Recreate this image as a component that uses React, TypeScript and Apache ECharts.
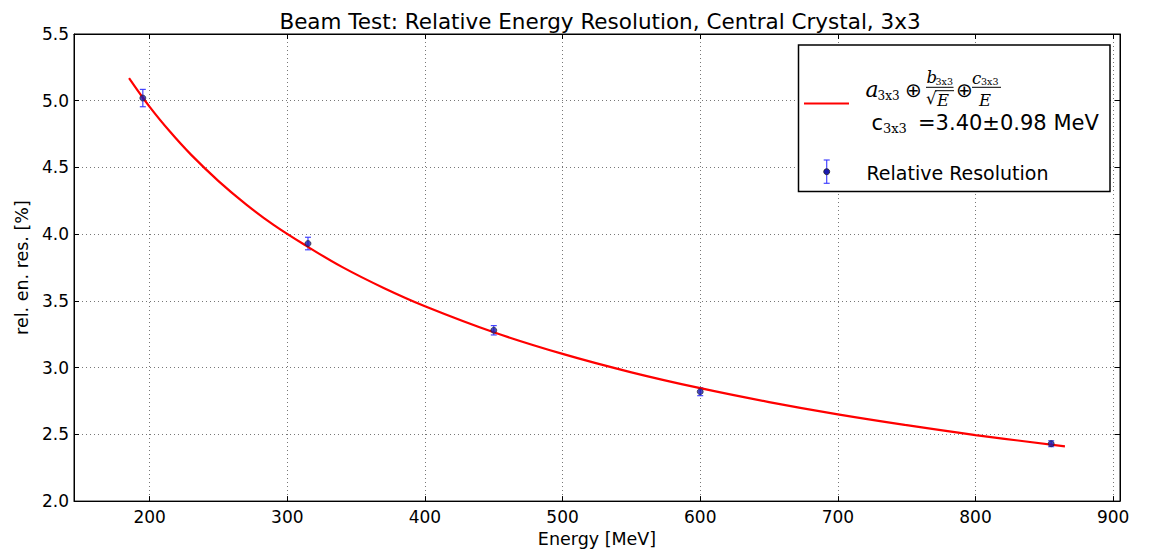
import React, { useEffect, useRef } from "react";
import * as echarts from "echarts";

const energies = [195, 315, 450, 600, 855];
const resolution = [5.02, 3.93, 3.28, 2.82, 2.43];
const errors = [0.065, 0.047, 0.035, 0.03, 0.022];

const fitEnergies = [185, 200, 215, 230, 250, 270, 290, 315, 340, 370, 400, 450, 500, 550, 600, 650, 700, 750, 800, 865];
const fitValues = [5.17, 4.954, 4.765, 4.596, 4.398, 4.224, 4.07, 3.905, 3.753, 3.597, 3.46, 3.265, 3.103, 2.965, 2.846, 2.742, 2.65, 2.569, 2.495, 2.41];

const xTicks = [200, 300, 400, 500, 600, 700, 800, 900];

const titleText = "Beam Test: Relative Energy Resolution, Central Crystal, 3x3";
const xName = "Energy [MeV]";
const yName = "rel. en. res. [%]";
const fitLabel = "=3.40\u00b10.98 MeV";
const pointsLabel = "Relative Resolution";

const SANS = "DejaVu Sans";
const SERIF = "DejaVu Serif";

export default function App() {
  const ref = useRef<HTMLDivElement>(null);
  useEffect(() => {
    if (!ref.current) return;
    const chart = echarts.init(ref.current, null, { renderer: "svg" });
    const gridLine = { show: true, lineStyle: { color: "#777", type: [1, 3], width: 1 } };
    const errColor = "rgba(50,50,255,0.9)";
    const txt = (text: string, x: number, y: number, size: number, family = SANS, italic = false) => ({
      type: "text",
      x,
      y,
      z: 101,
      style: {
        text,
        fill: "#000",
        font: `${italic ? "italic " : ""}${size}px "${family}"`,
        align: "left",
        verticalAlign: "middle",
      },
    });
    const seg = (x1: number, y1: number, x2: number, y2: number, color = "#000", w = 1) => ({
      type: "line",
      z: 101,
      shape: { x1, y1, x2, y2 },
      style: { stroke: color, lineWidth: w },
    });
    chart.setOption({
      animation: false,
      backgroundColor: "#fff",
      title: {
        text: titleText,
        left: 595,
        top: 5,
        textAlign: "center",
        textStyle: { fontFamily: SANS, fontSize: 21.5, fontWeight: "normal", color: "#000" },
      },
      grid: { left: 74, top: 34, right: 40, bottom: 46, show: true, borderColor: "#000", borderWidth: 1 },
      xAxis: [
        {
          type: "value",
          min: 145,
          max: 905,
          position: "bottom",
          name: xName,
          nameLocation: "middle",
          nameGap: 26,
          nameTextStyle: { fontFamily: SANS, fontSize: 17.5, color: "#000" },
          axisLine: { show: true, lineStyle: { color: "#000", width: 1 } },
          axisTick: { show: true, inside: true, length: 5, customValues: xTicks, lineStyle: { color: "#000" } },
          axisLabel: { customValues: xTicks, fontFamily: SANS, fontSize: 17, color: "#000", margin: 7 },
          splitLine: gridLine,
        },
        {
          type: "value",
          min: 145,
          max: 905,
          position: "top",
          axisLine: { show: true, lineStyle: { color: "#000", width: 1 } },
          axisTick: { show: true, inside: true, length: 5, customValues: xTicks, lineStyle: { color: "#000" } },
          axisLabel: { show: false },
          splitLine: { show: false },
        },
      ],
      yAxis: [
        {
          type: "value",
          min: 2,
          max: 5.5,
          interval: 0.5,
          position: "left",
          name: yName,
          nameLocation: "middle",
          nameGap: 40,
          nameTextStyle: { fontFamily: SANS, fontSize: 17.5, color: "#000" },
          axisLine: { show: true, lineStyle: { color: "#000", width: 1 } },
          axisTick: { show: true, inside: true, length: 5, lineStyle: { color: "#000" } },
          axisLabel: {
            fontFamily: SANS,
            fontSize: 17,
            color: "#000",
            margin: 5,
            formatter: (v: number) => v.toFixed(1),
          },
          splitLine: gridLine,
        },
        {
          type: "value",
          min: 2,
          max: 5.5,
          interval: 0.5,
          position: "right",
          axisLine: { show: true, lineStyle: { color: "#000", width: 1 } },
          axisTick: { show: true, inside: true, length: 5, lineStyle: { color: "#000" } },
          axisLabel: { show: false },
          splitLine: { show: false },
        },
      ],
      series: [
        {
          type: "custom",
          name: "errors",
          z: 2,
          data: energies.map((e, i) => [e, resolution[i], errors[i]]),
          encode: { x: 0, y: 1 },
          renderItem: (params: any, api: any) => {
            const x = api.value(0);
            const y = api.value(1);
            const e = api.value(2);
            const top = api.coord([x, y + e]);
            const bot = api.coord([x, y - e]);
            const hw = 3;
            const style = { stroke: errColor, lineWidth: 1.2 };
            return {
              type: "group",
              children: [
                { type: "line", shape: { x1: top[0], y1: top[1], x2: bot[0], y2: bot[1] }, style },
                { type: "line", shape: { x1: top[0] - hw, y1: top[1], x2: top[0] + hw, y2: top[1] }, style },
                { type: "line", shape: { x1: bot[0] - hw, y1: bot[1], x2: bot[0] + hw, y2: bot[1] }, style },
              ],
            };
          },
        },
        {
          type: "line",
          name: "fit",
          z: 3,
          data: fitEnergies.map((e, i) => [e, fitValues[i]]),
          smooth: 0.4,
          showSymbol: false,
          symbol: "none",
          lineStyle: { color: "#ff0000", width: 2.2 },
        },
        {
          type: "scatter",
          name: pointsLabel,
          z: 4,
          data: energies.map((e, i) => [e, resolution[i]]),
          symbol: "circle",
          symbolSize: 6,
          itemStyle: { color: "#1a1ab0", borderColor: "#222", borderWidth: 0.8 },
        },
      ],
      graphic: [
        {
          type: "rect",
          z: 100,
          shape: { x: 798.5, y: 45, width: 311.5, height: 146.5 },
          style: { fill: "#fff", stroke: "#000", lineWidth: 1.5 },
        },
        seg(804, 103.5, 849, 103.5, "#ff0000", 2.2),
        txt("a", 865.5, 89, 22, SERIF, true),
        txt("3x3", 877.5, 95.5, 12, SERIF),
        txt("\u2295", 905, 89.5, 20, SANS),
        txt("b", 926.5, 77.3, 16.5, SERIF, true),
        txt("3x3", 935.5, 81.5, 9.5, SERIF),
        seg(926, 87.3, 953.5, 87.3, "#000", 1),
        txt("\u221a", 926, 98.5, 16.5, SANS),
        seg(935, 90.7, 954, 90.7, "#000", 1),
        txt("E", 937, 100.5, 16.5, SERIF, true),
        txt("\u2295", 956, 89.5, 20, SANS),
        txt("c", 972, 78.3, 16.5, SERIF, true),
        txt("3x3", 981, 81.5, 9.5, SERIF),
        seg(972, 87.3, 1001, 87.3, "#000", 1),
        txt("E", 979, 100.5, 16.5, SERIF, true),
        txt("c", 871.5, 123.4, 21, SANS),
        txt("3x3", 883, 128.5, 13, SERIF),
        txt(fitLabel, 918, 123.4, 21, SANS),
        seg(826.7, 160, 826.7, 183.3, errColor, 1.2),
        seg(823.7, 160, 829.7, 160, errColor, 1.2),
        seg(823.7, 183.3, 829.7, 183.3, errColor, 1.2),
        {
          type: "circle",
          z: 101,
          shape: { cx: 826.7, cy: 171.7, r: 3 },
          style: { fill: "#1a1ab0", stroke: "#222", lineWidth: 0.8 },
        },
        txt(pointsLabel, 866.5, 172.7, 19, SANS),
      ],
    });
    return () => chart.dispose();
  }, []);
  return (
    <div
      ref={ref}
      style={{ position: "fixed", left: 0, top: 0, width: 1160, height: 553, background: "#fff" }}
    />
  );
}
